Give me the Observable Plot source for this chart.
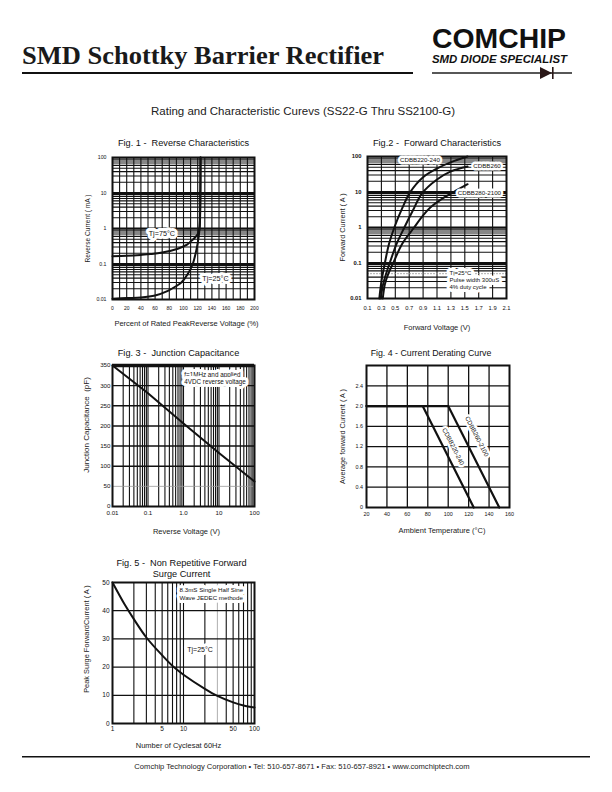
<!DOCTYPE html>
<html>
<head>
<meta charset="utf-8">
<script src="https://cdn.jsdelivr.net/npm/d3@7"></script>
<script src="https://cdn.jsdelivr.net/npm/@observablehq/plot@0.6"></script>
<style>
html, body { margin: 0; padding: 0; background: #fff; }
#page { position: relative; width: 612px; height: 792px; overflow: hidden; background: #fff; }
</style>
</head>
<body>
<div id="page"></div>
<script>
// ======================= DATA =======================
// Page texts
const headerTitle = "SMD Schottky Barrier Rectifier";
const logoName = "COMCHIP";
const logoTagline = "SMD DIODE SPECIALIST";
const pageSubtitle = "Rating and  Characteristic Curevs (SS22-G Thru SS2100-G)";
const footerText = "Comchip Technology Corporation \u2022 Tel: 510-657-8671 \u2022 Fax: 510-657-8921 \u2022 www.comchiptech.com";

// Fig. 1 - Reverse characteristics
const fig1Title = "Fig. 1 -  Reverse Characteristics";
const fig1XLabel = "Percent of Rated PeakReverse Voltage (%)";
const fig1YLabel = "Reverse Current ( mA )";
const fig1XTicks = [0, 20, 40, 60, 80, 100, 120, 140, 160, 180, 200];
const fig1YTicks = [0.01, 0.1, 1, 10, 100];
const fig1YTickLabels = ["0.01", "0.1", "1", "10", "100"];
const fig1Pct75 = [0, 20, 40, 54, 70, 92, 105, 111, 116, 120.4, 122.5, 123.5, 124];
const fig1Cur75 = [0.165, 0.17, 0.18, 0.19, 0.21, 0.27, 0.35, 0.45, 0.55, 0.71, 1, 3, 100];
const fig1Pct25 = [0, 20, 40, 60, 78, 90, 97, 106, 113, 118, 121.3, 122.7, 123.5, 124];
const fig1Cur25 = [0.0105, 0.011, 0.0114, 0.013, 0.0176, 0.024, 0.03, 0.052, 0.1, 0.24, 0.57, 1.1, 5, 100];
const fig1NoteText = ["Tj=75\u00B0C", "Tj=25\u00B0C"];
const fig1NoteX = [69.5, 145];
const fig1NoteY = [0.71, 0.038];

// Fig. 2 - Forward characteristics
const fig2Title = "Fig.2 -  Forward Characteristics";
const fig2XLabel = "Forward Voltage (V)";
const fig2YLabel = "Forward Current ( A )";
const fig2XTicks = [0.1, 0.3, 0.5, 0.7, 0.9, 1.1, 1.3, 1.5, 1.7, 1.9, 2.1];
const fig2XTickLabels = ["0.1", "0.3", "0.5", "0.7", "0.9", "1.1", "1.3", "1.5", "1.7", "1.9", "2.1"];
const fig2YTicks = [0.01, 0.1, 1, 10, 100];
const fig2YTickLabels = ["0.01", "0.1", "1", "10", "100"];
const fig2Series = ["CDBB220-240", "CDBB260", "CDBB280-2100"];
const fig2V220 = [0.27, 0.3, 0.35, 0.41, 0.49, 0.6, 0.71, 0.9, 1.14, 1.35, 1.54];
const fig2I220 = [0.01, 0.03, 0.1, 0.35, 1.05, 3.5, 9.6, 26, 50, 75, 100];
const fig2V260 = [0.29, 0.33, 0.42, 0.52, 0.63, 0.76, 0.88, 1.1, 1.3, 1.54];
const fig2I260 = [0.01, 0.028, 0.1, 0.35, 1, 3.2, 8.9, 22.4, 38, 52.5];
const fig2V280 = [0.32, 0.35, 0.4, 0.47, 0.6, 0.77, 0.9, 1.0, 1.15, 1.34, 1.54];
const fig2I280 = [0.01, 0.025, 0.05, 0.1, 0.35, 1, 2.2, 3.6, 6, 10, 16.6];
const fig2LabelX = [0.854, 1.82, 1.71];
const fig2LabelY = [80, 53, 9.6];
const fig2Condition = "Tj=25\u00B0C\nPulse width 300uS\n4% duty cycle";
const fig2ConditionX = 1.28;
const fig2ConditionY = 0.034;

// Fig. 3 - Junction capacitance
const fig3Title = "Fig. 3 -  Junction Capacitance";
const fig3XLabel = "Reverse Voltage (V)";
const fig3YLabel = "Junction Capacitance  (pF)";
const fig3XTicks = [0.01, 0.1, 1, 10, 100];
const fig3XTickLabels = ["0.01", "0.1", "1.0", "10", "100"];
const fig3YTicks = [0, 50, 100, 150, 200, 250, 300, 350];
const fig3Volt = [0.01, 0.1, 1, 10, 100];
const fig3Cap = [350, 281, 206, 133, 62];
const fig3Note = "f=1MHz and applied\n4VDC reverse voltage";
const fig3NoteX = 1.05;
const fig3NoteY = 319;

// Fig. 4 - Current derating curve
const fig4Title = "Fig. 4 - Current Derating Curve";
const fig4XLabel = "Ambient Temperature (\u00B0C)";
const fig4YLabel = "Average forward Current ( A )";
const fig4XTicks = [20, 40, 60, 80, 100, 120, 140, 160];
const fig4YTicks = [0, 0.4, 0.8, 1.2, 1.6, 2.0, 2.4];
const fig4YTickLabels = ["0", "0.4", "0.8", "1.2", "1.6", "2.0", "2.4"];
const fig4Temp220 = [20, 75, 125];
const fig4Amp220 = [2.0, 2.0, 0];
const fig4Temp260 = [20, 100, 150];
const fig4Amp260 = [2.0, 2.0, 0];
const fig4LabelText = ["CDBB220-240", "CDBB260-2100"];
const fig4LabelX = [104.8, 128];
const fig4LabelY = [1.2, 1.4];

// Fig. 5 - Non repetitive forward surge current
const fig5Title = "Fig. 5 -  Non Repetitive Forward\nSurge Current";
const fig5XLabel = "Number of Cyclesat 60Hz";
const fig5YLabel = "Peak Surge ForwardCurrent ( A )";
const fig5XTicks = [1, 5, 10, 50, 100];
const fig5YTicks = [0, 10, 20, 30, 40, 50];
const fig5Cycles = [1, 1.5, 2, 3, 5, 7.3, 10, 20, 30, 50, 70, 100];
const fig5Surge = [50, 42, 37, 30.5, 24.2, 20, 17.3, 12.3, 9.8, 7.5, 6.4, 5.7];
const fig5Note = "8.3mS Single Half Sine\nWave JEDEC methode";
const fig5NoteX = 8.8;
const fig5NoteY = 46;
const fig5TjText = "Tj=25\u00B0C";
const fig5TjX = 17.1;
const fig5TjY = 26;

// ======================= RENDERING =======================
const FONT = "'Liberation Sans', Arial, Helvetica, sans-serif";
const INK = "#111";
const page = document.getElementById("page");

// gridline helper: all m*10^k (m = 1..9) strictly inside (lo, hi)
function logGrid(lo, hi) {
  const out = [];
  for (let k = Math.floor(Math.log10(lo)); k <= Math.ceil(Math.log10(hi)); k++) {
    for (let m = 1; m <= 9; m++) {
      const v = +(m * Math.pow(10, k)).toPrecision(6);
      if (v > lo * 1.0001 && v < hi * 0.9999) out.push(v);
    }
  }
  return out;
}
const pts = (xs, ys) => xs.map((x, i) => ({x, y: ys[i]}));
const lookup = (vals, labs) => (d) => labs[vals.indexOf(d)] ?? String(d);

function note(texts, xs, ys, opts = {}) {
  return Plot.text(texts, {
    x: (d, i) => xs[i], y: (d, i) => ys[i], text: (d) => d,
    fill: INK, stroke: "white", strokeWidth: 5, paintOrder: "stroke",
    ...opts
  });
}

function chart(cfg) {
  const ml = 60, mr = 14, mt = 34, mb = 44;
  const w = cfg.frame[1] - cfg.frame[0], h = cfg.frame[3] - cfg.frame[2];
  const svg = Plot.plot({
    width: ml + w + mr, height: mt + h + mb,
    marginLeft: ml, marginRight: mr, marginTop: mt, marginBottom: mb,
    x: cfg.x, y: cfg.y,
    style: {fontFamily: FONT, color: INK, background: "none", overflow: "visible"},
    marks: [
      ...cfg.marks,
      Plot.text([cfg.title], {frameAnchor: "top", textAnchor: "middle", lineAnchor: "middle", dx: cfg.titleDx ?? 0, dy: cfg.titleDy, fontSize: cfg.titleSize ?? 9.2, lineHeight: 1.2, fill: INK}),
      Plot.text([cfg.xLabel], {frameAnchor: "bottom", textAnchor: "middle", lineAnchor: "middle", dx: cfg.xLabelDx ?? 0, dy: cfg.xLabelDy, fontSize: cfg.xLabelSize ?? 7.5, fill: "#222"}),
      Plot.text([cfg.yLabel], {frameAnchor: "left", textAnchor: "middle", lineAnchor: "middle", dx: cfg.yLabelDx, dy: cfg.yLabelDy ?? 0, rotate: -90, fontSize: cfg.yLabelSize ?? 7.3, fill: "#222"})
    ]
  });
  svg.style.position = "absolute";
  svg.style.left = (cfg.frame[0] - ml) + "px";
  svg.style.top = (cfg.frame[2] - mt) + "px";
  page.appendChild(svg);
}

// ---------- header / footer ----------
const deco = d3.create("svg").attr("width", 612).attr("height", 792)
  .style("position", "absolute").style("left", "0px").style("top", "0px");
deco.append("text").attr("x", 22).attr("y", 64)
  .attr("font-family", "'Liberation Serif', 'Times New Roman', serif").attr("font-weight", "bold")
  .attr("font-size", 26).attr("textLength", 362).attr("lengthAdjust", "spacingAndGlyphs")
  .attr("fill", "#1a1a1a").text(headerTitle);
deco.append("rect").attr("x", 22).attr("y", 72).attr("width", 391).attr("height", 2).attr("fill", "#111");
deco.append("text").attr("x", 432).attr("y", 48)
  .attr("font-family", FONT).attr("font-weight", "bold").attr("font-size", 27)
  .attr("textLength", 134).attr("lengthAdjust", "spacingAndGlyphs").attr("fill", "#111").text(logoName);
deco.append("text").attr("x", 432).attr("y", 63)
  .attr("font-family", FONT).attr("font-weight", "bold").attr("font-style", "italic").attr("font-size", 10)
  .attr("textLength", 135).attr("lengthAdjust", "spacingAndGlyphs").attr("fill", "#111").text(logoTagline);
deco.append("rect").attr("x", 432).attr("y", 72.3).attr("width", 140).attr("height", 1.4).attr("fill", "#111");
deco.append("path").attr("d", "M540,67 L552,73 L540,79 Z").attr("fill", "#2a1818");
deco.append("rect").attr("x", 552).attr("y", 67).attr("width", 1.6).attr("height", 12).attr("fill", "#2a1818");
deco.append("text").attr("x", 303).attr("y", 115).attr("text-anchor", "middle")
  .attr("font-family", FONT).attr("font-size", 11.5).attr("fill", "#222").text(pageSubtitle);
deco.append("rect").attr("x", 22).attr("y", 756).attr("width", 568).attr("height", 1.5).attr("fill", "#111");
deco.append("text").attr("x", 302).attr("y", 769).attr("text-anchor", "middle")
  .attr("font-family", FONT).attr("font-size", 7.6).attr("fill", "#222").text(footerText);
page.appendChild(deco.node());

// ---------- Fig. 1 ----------
chart({
  frame: [112, 254, 157, 299],
  x: {domain: [0, 200]},
  y: {type: "log", domain: [0.01, 100]},
  title: fig1Title, titleDy: -15,
  xLabel: fig1XLabel, xLabelDy: 24, xLabelDx: 3,
  yLabel: fig1YLabel, yLabelDx: -25, yLabelSize: 6.6,
  marks: [
    Plot.ruleX(d3.range(10, 200, 10), {stroke: INK, strokeWidth: 1.1}),
    Plot.ruleY(logGrid(0.01, 100), {stroke: INK, strokeWidth: 1.1}),
    Plot.ruleY([0.1, 1, 10], {stroke: INK, strokeWidth: 2}),
    Plot.frame({stroke: INK, strokeWidth: 2}),
    Plot.line(pts(fig1Pct75, fig1Cur75), {x: "x", y: "y", stroke: INK, strokeWidth: 2, curve: "catmull-rom"}),
    Plot.line(pts(fig1Pct25, fig1Cur25), {x: "x", y: "y", stroke: INK, strokeWidth: 2, curve: "catmull-rom"}),
    note(fig1NoteText, fig1NoteX, fig1NoteY, {fontSize: 7.2, strokeWidth: 6}),
    Plot.axisX({ticks: fig1XTicks, tickSize: 0, tickPadding: 6.5, fontSize: 5, label: null}),
    Plot.axisY({ticks: fig1YTicks, tickFormat: lookup(fig1YTicks, fig1YTickLabels), tickSize: 0, tickPadding: 6, fontSize: 5.2, label: null})
  ]
});

// ---------- Fig. 2 ----------
chart({
  frame: [367, 506, 156, 298],
  x: {domain: [0.1, 2.1]},
  y: {type: "log", domain: [0.01, 100]},
  title: fig2Title, titleDy: -14,
  xLabel: fig2XLabel, xLabelDy: 29,
  yLabel: fig2YLabel, yLabelDx: -25,
  marks: [
    Plot.ruleX(d3.range(0.3, 2.09, 0.2), {stroke: INK, strokeWidth: 1.1}),
    Plot.ruleY(logGrid(0.01, 100).filter((v) => v !== 0.05), {stroke: INK, strokeWidth: 1.1}),
    Plot.ruleY([0.05], {stroke: "#999", strokeWidth: 0.8, strokeDasharray: "2,1"}),
    Plot.ruleY([0.1, 1, 10], {stroke: INK, strokeWidth: 2}),
    Plot.frame({stroke: INK, strokeWidth: 2}),
    Plot.line(pts(fig2V220, fig2I220), {x: "x", y: "y", stroke: INK, strokeWidth: 2, curve: "catmull-rom"}),
    Plot.line(pts(fig2V260, fig2I260), {x: "x", y: "y", stroke: INK, strokeWidth: 2, curve: "catmull-rom"}),
    Plot.line(pts(fig2V280, fig2I280), {x: "x", y: "y", stroke: INK, strokeWidth: 2, curve: "catmull-rom"}),
    note(fig2Series, fig2LabelX, fig2LabelY, {fontSize: 6.2, strokeWidth: 5}),
    note([fig2Condition], [fig2ConditionX], [fig2ConditionY], {fontSize: 6, lineHeight: 1.2, textAnchor: "start", strokeWidth: 6}),
    Plot.axisX({ticks: fig2XTicks, tickFormat: lookup(fig2XTicks, fig2XTickLabels), tickSize: 0, tickPadding: 7.5, fontSize: 5.8, label: null}),
    Plot.axisY({ticks: fig2YTicks, tickFormat: lookup(fig2YTicks, fig2YTickLabels), tickSize: 0, tickPadding: 6, fontSize: 5.8, fontWeight: "bold", label: null})
  ]
});

// ---------- Fig. 3 ----------
chart({
  frame: [112, 254, 365, 506],
  x: {type: "log", domain: [0.01, 100]},
  y: {domain: [0, 350]},
  title: fig3Title, titleDy: -13, titleDx: -5,
  xLabel: fig3XLabel, xLabelDy: 25, xLabelDx: 3,
  yLabel: fig3YLabel, yLabelDx: -26, yLabelDy: -11, yLabelSize: 8,
  marks: [
    Plot.ruleX(logGrid(0.01, 100), {stroke: INK, strokeWidth: 1.1}),
    Plot.ruleY([100, 150, 200, 250, 300], {stroke: INK, strokeWidth: 1.4}),
    Plot.ruleY([50], {stroke: "#999", strokeWidth: 0.8}),
    Plot.frame({stroke: INK, strokeWidth: 2}),
    Plot.ruleY([350], {stroke: INK, strokeWidth: 3.5}),
    Plot.line(pts(fig3Volt, fig3Cap), {x: "x", y: "y", stroke: INK, strokeWidth: 2}),
    note([fig3Note], [fig3NoteX], [fig3NoteY], {fontSize: 6.3, lineHeight: 1.25, textAnchor: "start", strokeWidth: 6}),
    Plot.axisX({ticks: fig3XTicks, tickFormat: lookup(fig3XTicks, fig3XTickLabels), tickSize: 0, tickPadding: 4.5, fontSize: 6.2, label: null}),
    Plot.axisY({ticks: fig3YTicks, tickSize: 0, tickPadding: 2, fontSize: 6.2, label: null})
  ]
});

// ---------- Fig. 4 ----------
chart({
  frame: [366, 509, 365, 507],
  x: {domain: [20, 160]},
  y: {domain: [0, 2.8]},
  title: fig4Title, titleDy: -13, titleDx: -7, titleSize: 8.8,
  xLabel: fig4XLabel, xLabelDy: 23, xLabelDx: 4,
  yLabel: fig4YLabel, yLabelDx: -24,
  marks: [
    Plot.ruleX(d3.range(40, 160, 20), {stroke: INK, strokeWidth: 1.3}),
    Plot.ruleY([0.4, 0.8, 1.2, 1.6, 2.0, 2.4], {stroke: INK, strokeWidth: 1.3}),
    Plot.frame({stroke: INK, strokeWidth: 2}),
    Plot.line(pts(fig4Temp220, fig4Amp220), {x: "x", y: "y", stroke: INK, strokeWidth: 2.2}),
    Plot.line(pts(fig4Temp260, fig4Amp260), {x: "x", y: "y", stroke: INK, strokeWidth: 2.2}),
    note(fig4LabelText, fig4LabelX, fig4LabelY, {fontSize: 6.3, rotate: 63, strokeWidth: 5}),
    Plot.axisX({ticks: fig4XTicks, tickSize: 0, tickPadding: 4.5, fontSize: 5.4, label: null}),
    Plot.axisY({ticks: fig4YTicks, tickFormat: lookup(fig4YTicks, fig4YTickLabels), tickSize: 0, tickPadding: 3.5, fontSize: 5.4, label: null})
  ]
});

// ---------- Fig. 5 ----------
chart({
  frame: [112, 254, 582, 723],
  x: {type: "log", domain: [1, 100]},
  y: {domain: [0, 50]},
  title: fig5Title, titleDy: -14.5, titleDx: -2,
  xLabel: fig5XLabel, xLabelDy: 22, xLabelDx: -5,
  yLabel: fig5YLabel, yLabelDx: -26, yLabelDy: -14, yLabelSize: 7.4,
  marks: [
    Plot.ruleX(logGrid(1, 100).filter((v) => v !== 30), {stroke: INK, strokeWidth: 1.1}),
    Plot.ruleX([30], {stroke: "#999", strokeWidth: 0.8}),
    Plot.ruleY([10, 20, 30, 40], {stroke: INK, strokeWidth: 1.3}),
    Plot.frame({stroke: INK, strokeWidth: 2}),
    Plot.line(pts(fig5Cycles, fig5Surge), {x: "x", y: "y", stroke: INK, strokeWidth: 2, curve: "catmull-rom"}),
    note([fig5Note], [fig5NoteX], [fig5NoteY], {fontSize: 6.2, lineHeight: 1.15, textAnchor: "start", strokeWidth: 6}),
    note([fig5TjText], [fig5TjX], [fig5TjY], {fontSize: 7, strokeWidth: 6}),
    Plot.axisX({ticks: fig5XTicks, tickSize: 0, tickPadding: 2.5, fontSize: 6.5, label: null}),
    Plot.axisY({ticks: fig5YTicks, tickSize: 0, tickPadding: 3, fontSize: 6.5, label: null})
  ]
});
</script>
</body>
</html>
